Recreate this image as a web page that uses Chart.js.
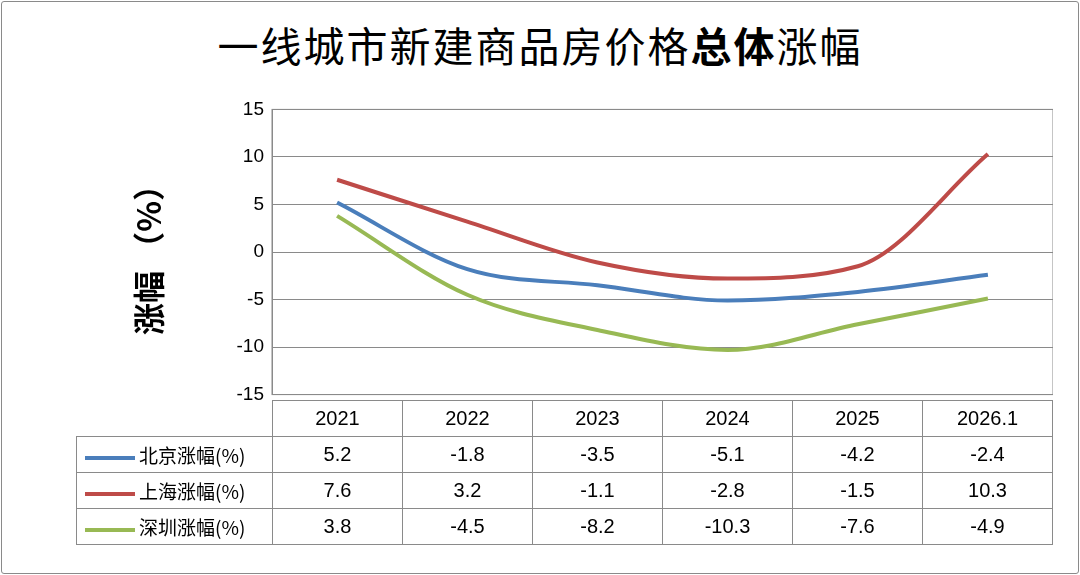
<!DOCTYPE html>
<html>
<head>
<meta charset="utf-8">
<script src="https://cdn.jsdelivr.net/npm/chart.js@4"></script>
<style>
  body { margin: 0; background: #fff; font-family: "Liberation Sans", "Noto Sans CJK SC", sans-serif; }
  #frame { position: absolute; left: 1px; top: 1px; width: 1076px; height: 571px; border: 1px solid #8a8a8a; border-radius: 3px; }
  #title { position: absolute; left: 0; top: 14px; width: 1080px; text-align: center; font-size: 41px; font-family: "Noto Sans CJK SC", sans-serif; letter-spacing: 2px; }
  #title b { font-weight: 700; }
  #wrap { position: absolute; left: 130px; top: 90px; width: 923px; height: 324px; }
  table { position: absolute; left: 76px; top: 400px; border-collapse: collapse; font-size: 20px; }
  td { border: 1px solid #8a8a8a; height: 35px; padding: 0; text-align: center; width: 129px; }
  td.lab { width: 195px; text-align: left; white-space: nowrap; font-family: "Noto Sans CJK SC", sans-serif; font-size: 19px; }
  td.blank { border: none; border-bottom: 1px solid #8a8a8a; }
  .sw { display: inline-block; width: 50px; height: 4px; vertical-align: middle; margin: 0 4px 0 8px; }
</style>
</head>
<body>
<div id="frame"></div>
<div id="title">一线城市新建商品房价格<b>总体</b>涨幅</div>
<div id="wrap"><canvas id="chart"></canvas></div>
<table id="tbl"></table>
<script>
const years = ["2021", "2022", "2023", "2024", "2025", "2026.1"];
const series = [
    { name: "北京涨幅(%)", color: "#4a7ebb", data: [5.2, -1.8, -3.5, -5.1, -4.2, -2.4] },
    { name: "上海涨幅(%)", color: "#be4b48", data: [7.6, 3.2, -1.1, -2.8, -1.5, 10.3] },
    { name: "深圳涨幅(%)", color: "#98b954", data: [3.8, -4.5, -8.2, -10.3, -7.6, -4.9] }
];

// data table under the plot
const tbl = document.getElementById("tbl");
let html = `<tr><td class="lab blank"></td>${years.map(y => `<td>${y}</td>`).join("")}</tr>`;
series.forEach(s => {
    html += `<tr><td class="lab"><span class="sw" style="background:${s.color}"></span>${s.name}</td>` +
        s.data.map(v => `<td>${v}</td>`).join("") + "</tr>";
});
tbl.innerHTML = html;

const ctx = document.getElementById("chart").getContext("2d");
new Chart(ctx, {
    type: "line",
    data: {
        labels: years,
        datasets: series.map(s => ({
            label: s.name,
            data: s.data,
            borderColor: s.color,
            borderWidth: 4,
            pointRadius: 0,
            cubicInterpolationMode: "monotone",
            fill: false
        }))
    },
    options: {
        responsive: true,
        maintainAspectRatio: false,
        animation: false,
        layout: { padding: 0 },
        plugins: { legend: { display: false }, tooltip: { enabled: false } },
        scales: {
            x: { display: false, offset: true },
            y: {
                min: -15, max: 15,
                ticks: { stepSize: 5, color: "#000", font: { size: 19, family: "Liberation Sans" }, padding: 8 },
                grid: { color: "#8a8a8a", drawTicks: false },
                border: { color: "#8a8a8a" },
                title: { display: true, text: "涨幅 （%）", color: "#000", font: { size: 32, weight: "bold", family: "Noto Sans CJK SC" }, padding: { top: 0, bottom: 0 } },
                afterFit: axis => { axis.width = 142; }
            }
        }
    },
    plugins: [{
        id: "frameBox",
        afterDraw(chart) {
            const a = chart.chartArea, c = chart.ctx;
            c.save();
            c.strokeStyle = "#8a8a8a";
            c.lineWidth = 1;
            c.strokeRect(a.left, a.top, a.right - a.left, a.bottom - a.top);
            c.restore();
        }
    }]
});
</script>
</body>
</html>
